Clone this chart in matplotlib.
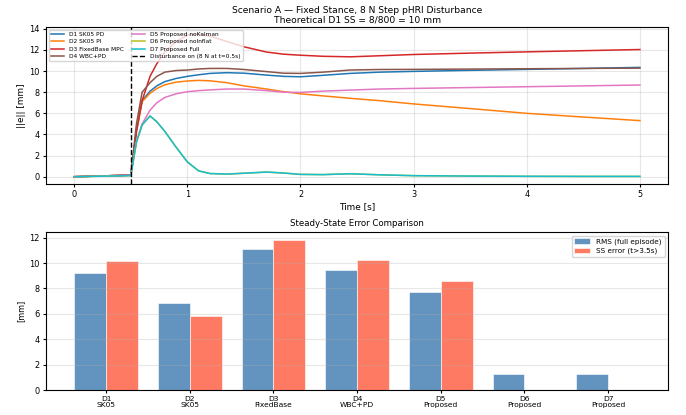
import numpy as np
import matplotlib
matplotlib.use("Agg")
import matplotlib.pyplot as plt

# =============================================================================
# Data
# =============================================================================

t_pts = [0.0, 0.5, 0.55, 0.6, 0.67, 0.73, 0.8, 0.9, 1.0, 1.1, 1.2, 1.35,
         1.5, 1.7, 1.85, 2.0, 2.2, 2.44, 2.7, 3.0, 3.5, 4.0, 4.5, 5.0]

d1_pd = [0.0, 0.15, 4.5, 7.2, 8.1, 8.6, 9.0, 9.3, 9.5, 9.65, 9.78, 9.85,
         9.8, 9.62, 9.5, 9.46, 9.6, 9.78, 9.9, 9.97, 10.07, 10.16, 10.25, 10.35]
d2_pi = [0.0, 0.15, 4.4, 7.1, 7.9, 8.35, 8.7, 8.95, 9.06, 9.12, 9.08, 8.9,
         8.6, 8.3, 8.05, 7.85, 7.65, 7.42, 7.2, 6.89, 6.45, 6.0, 5.65, 5.31]
d3_mpc = [0.0, 0.15, 4.2, 7.2, 9.5, 10.7, 11.8, 12.8, 13.4, 13.5, 13.3, 12.8,
          12.3, 11.8, 11.6, 11.5, 11.4, 11.35, 11.45, 11.57, 11.7, 11.82, 11.93, 12.04]
d4_wbc = [0.0, 0.15, 5.0, 8.0, 8.9, 9.5, 9.9, 10.05, 10.1, 10.2, 10.25, 10.25,
          10.15, 9.95, 9.8, 9.78, 9.9, 10.1, 10.15, 10.16, 10.19, 10.22, 10.25, 10.28]
d5_nokal = [0.0, 0.15, 3.3, 5.0, 6.3, 7.0, 7.5, 7.85, 8.05, 8.15, 8.22, 8.3,
            8.3, 8.15, 8.0, 7.98, 8.1, 8.2, 8.3, 8.36, 8.44, 8.52, 8.6, 8.68]
d6_noinf = [0.0, 0.1, 3.3, 4.9, 5.75, 5.2, 4.3, 2.8, 1.4, 0.55, 0.3, 0.25,
            0.33, 0.44, 0.35, 0.22, 0.2, 0.28, 0.18, 0.1, 0.06, 0.04, 0.03, 0.03]
d7_full = [0.0, 0.1, 3.3, 4.9, 5.75, 5.2, 4.3, 2.8, 1.4, 0.55, 0.3, 0.25,
           0.33, 0.44, 0.35, 0.22, 0.2, 0.28, 0.18, 0.1, 0.06, 0.04, 0.03, 0.03]

line_labels = ["D1 SK05 PD", "D2 SK05 PI", "D3 FixedBase MPC", "D4 WBC+PD",
               "D5 Proposed noKalman", "D6 Proposed noInflat", "D7 Proposed Full"]
line_colors = ["tab:blue", "tab:orange", "tab:red", "tab:brown",
               "tab:pink", "tab:olive", "tab:cyan"]

bar_labels = ["D1\nSK05", "D2\nSK05", "D3\nFixedBase", "D4\nWBC+PD",
              "D5\nProposed", "D6\nProposed", "D7\nProposed"]
rms_vals = [9.25, 6.85, 11.1, 9.45, 7.75, 1.3, 1.3]
ss_vals = [10.15, 5.85, 11.85, 10.2, 8.55, 0.0, 0.0]

# =============================================================================
# Figure
# =============================================================================

fig = plt.figure(figsize=(6.86, 4.15), dpi=100)
ax1 = fig.add_axes([0.067, 0.557, 0.907, 0.378])
ax2 = fig.add_axes([0.067, 0.060, 0.907, 0.381])

series = [d1_pd, d2_pi, d3_mpc, d4_wbc, d5_nokal, d6_noinf, d7_full]
for y, lab, col in zip(series, line_labels, line_colors):
    ax1.plot(t_pts, y, color=col, lw=1.1, label=lab)
ax1.axvline(0.5, color="k", ls="--", lw=1.0, label="Disturbance on (8 N at t=0.5s)")

ax1.set_title("Scenario A \u2014 Fixed Stance, 8 N Step pHRI Disturbance\n"
              "Theoretical D1 SS = 8/800 = 10 mm", fontsize=6.6, pad=3,
              linespacing=1.1)
ax1.set_xlabel("Time [s]", fontsize=6.4, labelpad=2)
ax1.set_ylabel("||e|| [mm]", fontsize=6.4, labelpad=2)
ax1.set_yticks([0, 2, 4, 6, 8, 10, 12, 14])
ax1.tick_params(labelsize=5.9, length=2.5, pad=2)
ax1.grid(True, alpha=0.3)
ax1.legend(ncol=2, fontsize=4.2, loc="upper left", handlelength=2.2,
           borderpad=0.4, labelspacing=0.35, columnspacing=1.5)

x = np.arange(len(bar_labels))
w = 0.38
ax2.bar(x - w / 2, rms_vals, w, color="steelblue", alpha=0.85,
        edgecolor="white", linewidth=0.5, label="RMS (full episode)")
ax2.bar(x + w / 2, ss_vals, w, color="tomato", alpha=0.85,
        edgecolor="white", linewidth=0.5, label="SS error (t>3.5s)")
ax2.set_xticks(x)
ax2.set_xticklabels(bar_labels, fontsize=5.4, linespacing=1.0)
ax2.set_ylabel("[mm]", fontsize=5.9, labelpad=3)
ax2.set_title("Steady-State Error Comparison", fontsize=6.2, pad=4)
ax2.tick_params(axis="y", labelsize=5.9, length=2.5, pad=2)
ax2.tick_params(axis="x", length=2.5, pad=2)
ax2.grid(True, axis="y", alpha=0.3)
ax2.legend(fontsize=5.2, loc="upper right", handlelength=2.2, borderpad=0.4,
           labelspacing=0.4)

fig.savefig("out.png", dpi=100)
